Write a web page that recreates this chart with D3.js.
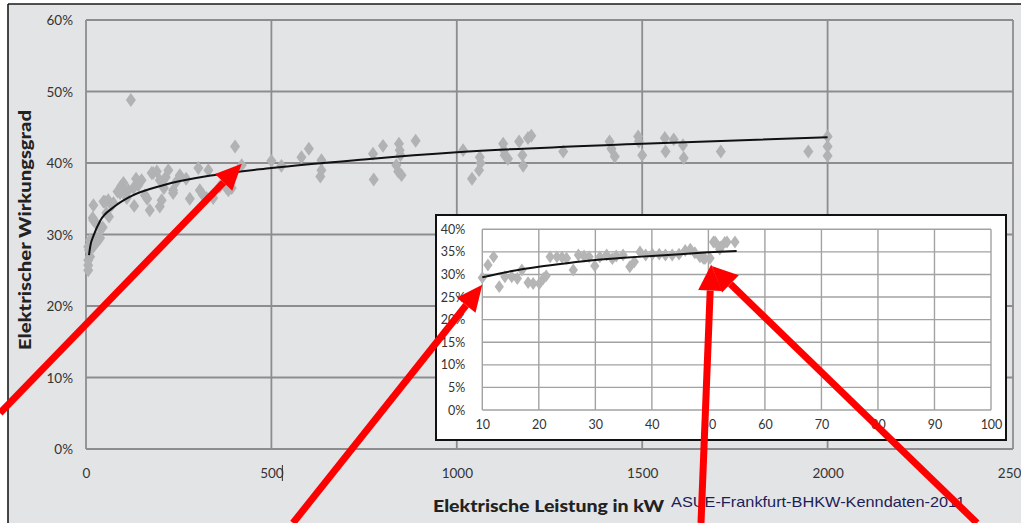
<!DOCTYPE html>
<html>
<head>
<meta charset="utf-8">
<script src="https://cdn.jsdelivr.net/npm/d3@7"></script>
<style>
  html, body { margin: 0; padding: 0; background: #ffffff; }
  svg { display: block; }
  .tick-label { font-family: "Lato", "DejaVu Sans", sans-serif; fill: #333; }
</style>
</head>
<body>
<svg id="chart" width="1021" height="523"></svg>
<script>
// ---- Main chart: electrical efficiency vs. electrical power (kW) ----
const mainKw = [
  6, 6, 6, 8, 11, 11, 6, 20, 29, 38, 33, 38, 18, 20, 20, 28, 45, 55, 62,
  47, 51, 60, 69, 74, 85, 92, 95, 101, 105, 110, 114, 121, 128, 130, 135, 141, 150, 159,
  165, 172, 177, 181, 191, 199, 199, 204, 210, 215, 222, 235, 235, 244, 253, 270, 280,
  303, 307, 316, 325, 330, 343, 361, 379, 384, 388, 393, 402, 420,
  500, 527, 581, 601, 635, 635, 632, 774, 776, 801, 844, 846, 848, 837, 842, 851, 889,
  1017, 1062, 1064, 1060, 1041, 1125, 1127, 1129, 1138, 1168, 1177, 1179, 1192, 1201, 1287,
  1412, 1417, 1426, 1489, 1491, 1500, 1561, 1585, 1563, 1610, 1612, 1712, 1948, 2000, 2000, 2000
];
const mainEff = [
  25.0, 25.7, 26.4, 27.8, 26.9, 29.2, 28.3, 28.3, 29.5, 29.5, 29.2, 30.9, 32.3, 32.0, 34.1, 31.5, 31.0, 33.0, 32.5,
  34.6, 34.6, 34.8, 34.1, 34.4, 36.0, 35.8, 36.8, 37.2, 36.0, 35.1, 36.2, 48.8, 36.5, 34.0, 37.8, 36.9, 37.6, 35.5,
  35.0, 33.4, 38.6, 38.6, 38.8, 37.6, 33.9, 34.8, 36.5, 38.0, 39.0, 36.2, 35.8, 37.4, 38.3, 37.8, 35.0,
  39.3, 36.2, 35.5, 35.1, 39.0, 35.1, 36.7, 36.5, 36.2, 37.6, 36.5, 42.3, 39.7,
  40.3, 39.6, 40.8, 42.0, 40.4, 39.0, 38.1, 41.3, 37.7, 42.4, 42.7, 41.8, 41.1, 39.7, 38.8, 38.3, 43.1,
  41.8, 40.8, 40.0, 39.0, 37.8, 42.7, 41.8, 41.1, 40.6, 43.0, 41.1, 39.6, 43.5, 43.8, 41.6,
  43.0, 42.0, 40.9, 43.7, 43.0, 41.1, 43.5, 43.3, 41.6, 42.5, 40.7, 41.6, 41.6, 43.7, 42.3, 41.0
];
// trend line (logarithmic fit), read at several powers
const mainTrendKw  = [8, 12, 20, 38, 74, 119, 208, 343, 500, 750, 1000, 1500, 2000];
const mainTrendEff = [27.1, 28.5, 29.8, 31.9, 33.8, 35.3, 36.9, 38.3, 39.3, 40.5, 41.5, 42.7, 43.6];

const mainXTicks = [0, 500, 1000, 1500, 2000, 2500];
const mainYTicks = [0, 10, 20, 30, 40, 50, 60];

// ---- Inset: 10 to 100 kW ----
const insetKw = [
  10, 11, 12, 13, 14, 15.2, 16.2, 17, 18.1, 19, 20.1, 20.8, 21.3, 22, 23.2, 24.1, 24.9,
  26.1, 27, 28, 28.9, 29.9, 30.8, 32, 33, 33.7, 34.9, 36.1, 36.9, 37.9, 38.9, 40.1, 41.3,
  42.4, 43.6, 44.8, 45.9, 46.8, 47.6, 48.5, 49.1, 49.4, 50.3, 50.9, 51.2, 52, 52.1, 52.9, 53.3, 54.7
];
const insetEff = [
  29.3, 32.1, 33.9, 27.3, 29.5, 29.5, 29.1, 31.0, 28.2, 28.0, 28.0, 29.1, 29.7, 33.9, 33.9, 33.8, 33.6,
  31.0, 34.3, 34.1, 33.9, 31.9, 33.9, 34.3, 33.5, 34.1, 34.3, 31.7, 32.8, 35.0, 34.3, 34.5, 34.5,
  34.3, 34.3, 34.5, 35.3, 35.6, 34.8, 33.9, 33.6, 33.5, 33.6, 37.2, 37.2, 35.6, 36.1, 37.1, 37.2, 37.2
];
const insetTrendKw  = [10, 15, 20, 25, 30, 35, 40, 45, 50, 55];
const insetTrendEff = [29.4, 30.7, 31.7, 32.5, 33.2, 33.7, 34.1, 34.5, 34.9, 35.2];

const insetXTicks = [10, 20, 30, 40, 50, 60, 70, 80, 90, 100];
const insetYTicks = [0, 5, 10, 15, 20, 25, 30, 35, 40];

const xTitle = "Elektrische Leistung in kW";
const yTitle = "Elektrischer Wirkungsgrad";
const sourceNote = "ASUE-Frankfurt-BHKW-Kenndaten-2011";

const svg = d3.select("#chart");

// figure panel
svg.append("rect").attr("x", 8).attr("y", 4).attr("width", 1030).attr("height", 540)
  .attr("fill", "#e3e4e6");
svg.append("line").attr("x1", 8).attr("x2", 1021).attr("y1", 4).attr("y2", 4)
  .attr("stroke", "#1a1a1a").attr("stroke-width", 1.6);
svg.append("line").attr("x1", 8).attr("x2", 8).attr("y1", 4).attr("y2", 523)
  .attr("stroke", "#1a1a1a").attr("stroke-width", 1.6);

const x = d3.scaleLinear().domain([0, 2500]).range([86, 1013]);
const y = d3.scaleLinear().domain([0, 60]).range([449, 20]);

const gridColor = "#8d8d8f";
const main = svg.append("g");

// grid
main.append("g").selectAll("line").data(mainYTicks).join("line")
  .attr("x1", x(0)).attr("x2", x(2500))
  .attr("y1", d => y(d)).attr("y2", d => y(d))
  .attr("stroke", gridColor).attr("stroke-width", 1.8);
main.append("g").selectAll("line").data(mainXTicks).join("line")
  .attr("x1", d => x(d)).attr("x2", d => x(d))
  .attr("y1", y(0)).attr("y2", y(60))
  .attr("stroke", gridColor).attr("stroke-width", 1.8);

// axes labels (built with d3 axes, domain lines hidden)
const yAxis = d3.axisLeft(y).tickValues(mainYTicks).tickSize(0).tickPadding(13)
  .tickFormat(d => d + "%");
main.append("g").attr("transform", `translate(${x(0)},0)`).call(yAxis)
  .call(g => g.select(".domain").remove())
  .selectAll("text").attr("class", "tick-label").style("font-size", "13.5px")
  .attr("fill", "#333").attr("dy", "0.35em");

const xAxis = d3.axisBottom(x).tickValues(mainXTicks).tickSize(0).tickPadding(19)
  .tickFormat(d3.format("d"));
const xg = main.append("g").attr("transform", `translate(0,${y(0)})`).call(xAxis);
xg.select(".domain").remove();
xg.selectAll("text").attr("class", "tick-label").style("font-size", "13.5px").attr("fill", "#333");
// small vertical bar after the 500 label
main.append("line").attr("x1", x(500) + 11).attr("x2", x(500) + 11)
  .attr("y1", 465).attr("y2", 481).attr("stroke", "#333").attr("stroke-width", 1);

// diamonds
const diamond = d3.symbol().type(d3.symbolDiamond).size(56);
const mainPts = mainKw.map((k, i) => ({k, e: mainEff[i]}));
main.append("g").selectAll("path").data(mainPts).join("path")
  .attr("d", diamond)
  .attr("transform", d => `translate(${x(d.k)},${y(d.e)}) scale(1.25,1)`)
  .attr("fill", "#b1b2b4");

// trend line
const mainTrend = mainTrendKw.map((k, i) => [x(k), y(mainTrendEff[i])]);
main.append("path").attr("d", d3.line().curve(d3.curveMonotoneX)(mainTrend))
  .attr("fill", "none").attr("stroke", "#111").attr("stroke-width", 2);

// titles
svg.append("text").attr("transform", "translate(31,230) rotate(-90)")
  .attr("text-anchor", "middle")
  .attr("textLength", 240).attr("lengthAdjust", "spacingAndGlyphs")
  .style("font-family", "Lato, 'DejaVu Sans', sans-serif").style("font-weight", 900)
  .style("font-size", "17px").attr("fill", "#222").text(yTitle);
svg.append("text").attr("x", 433).attr("y", 512)
  .attr("textLength", 231).attr("lengthAdjust", "spacingAndGlyphs")
  .style("font-family", "Lato, 'DejaVu Sans', sans-serif").style("font-weight", 900)
  .style("font-size", "17px").attr("fill", "#222").text(xTitle);
svg.append("text").attr("x", 671).attr("y", 507)
  .attr("textLength", 294).attr("lengthAdjust", "spacingAndGlyphs")
  .style("font-family", "'Liberation Sans', Arial, sans-serif")
  .style("font-size", "15px").attr("fill", "#1d1d58").text(sourceNote);

// ---- inset ----
const inset = svg.append("g");
inset.append("rect").attr("x", 436).attr("y", 215).attr("width", 570).attr("height", 225)
  .attr("fill", "#ffffff").attr("stroke", "#111").attr("stroke-width", 2);

const ix = d3.scaleLinear().domain([10, 100]).range([482.3, 991]);
const iy = d3.scaleLinear().domain([0, 40]).range([410, 229.3]);

inset.append("g").selectAll("line").data(insetYTicks).join("line")
  .attr("x1", ix(10)).attr("x2", ix(100))
  .attr("y1", d => iy(d)).attr("y2", d => iy(d))
  .attr("stroke", "#a2a2a2").attr("stroke-width", 1.4);
inset.append("g").selectAll("line").data(insetXTicks).join("line")
  .attr("x1", d => ix(d)).attr("x2", d => ix(d))
  .attr("y1", iy(0)).attr("y2", iy(40))
  .attr("stroke", "#a2a2a2").attr("stroke-width", 1.4);

const iyAxis = d3.axisLeft(iy).tickValues(insetYTicks).tickSize(0).tickPadding(17)
  .tickFormat(d => d + "%");
inset.append("g").attr("transform", `translate(${ix(10)},0)`).call(iyAxis)
  .call(g => g.select(".domain").remove())
  .selectAll("text").attr("class", "tick-label").style("font-size", "12.5px").attr("fill", "#333");

const ixAxis = d3.axisBottom(ix).tickValues(insetXTicks).tickSize(0).tickPadding(10)
  .tickFormat(d3.format("d"));
const ixg = inset.append("g").attr("transform", `translate(0,${iy(0)})`).call(ixAxis);
ixg.select(".domain").remove();
ixg.selectAll("text").attr("class", "tick-label").style("font-size", "12.5px").attr("fill", "#333");

const insetPts = insetKw.map((k, i) => ({k, e: insetEff[i]}));
inset.append("g").selectAll("path").data(insetPts).join("path")
  .attr("d", d3.symbol().type(d3.symbolDiamond).size(48))
  .attr("transform", d => `translate(${ix(d.k)},${iy(d.e)}) scale(1.25,1)`)
  .attr("fill", "#b5b5b5");

const insetTrend = insetTrendKw.map((k, i) => [ix(k), iy(insetTrendEff[i])]);
inset.append("path").attr("d", d3.line().curve(d3.curveMonotoneX)(insetTrend))
  .attr("fill", "none").attr("stroke", "#111").attr("stroke-width", 2);

// ---- red annotation arrows (tips placed on data positions) ----
const arrows = [
  {from: [0, 413],   to: [x(420), y(39.9)]},
  {from: [293, 523], to: [ix(10), iy(27.7)]},
  {from: [701, 523], to: [ix(50.5), iy(32.2)]},
  {from: [977, 523], to: [ix(50.6), iy(31.9)]}
];
const arrowG = svg.append("g");
arrows.forEach(a => {
  const [x1, y1] = a.from, [x2, y2] = a.to;
  const ang = Math.atan2(y2 - y1, x2 - x1);
  const headLen = 26, headHalf = 12;
  const bx = x2 - headLen * Math.cos(ang), by = y2 - headLen * Math.sin(ang);
  arrowG.append("line").attr("x1", x1).attr("y1", y1).attr("x2", bx).attr("y2", by)
    .attr("stroke", "#ff0000").attr("stroke-width", 7);
  const px = -Math.sin(ang), py = Math.cos(ang);
  arrowG.append("path")
    .attr("d", d3.line()([[x2, y2], [bx + px * headHalf, by + py * headHalf], [bx - px * headHalf, by - py * headHalf]]) + "Z")
    .attr("fill", "#ff0000");
});
</script>
</body>
</html>
